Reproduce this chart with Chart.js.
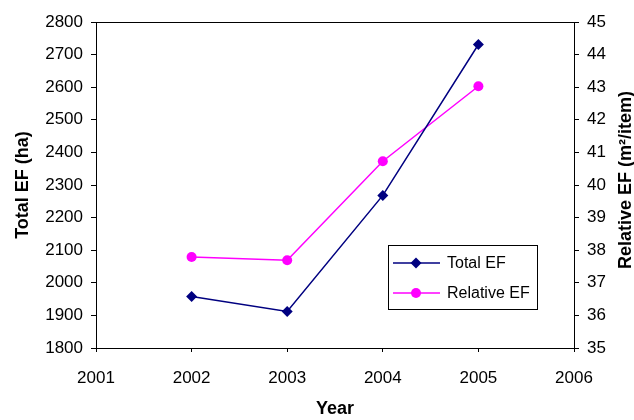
<!DOCTYPE html>
<html>
<head>
<meta charset="utf-8">
<script src="https://cdn.jsdelivr.net/npm/chart.js@4/dist/chart.umd.min.js"></script>
<style>
  html, body { margin: 0; padding: 0; background: #fff; }
  #wrap { width: 634px; height: 420px; }
</style>
</head>
<body>
<div id="wrap"><canvas id="efChart" width="634" height="420"></canvas></div>
<script>
// values
const years = [2002, 2003, 2004, 2005];
const totalEF = [1958, 1912, 2268, 2731];
const relativeEF = [37.79, 37.69, 40.73, 43.03];
const seriesNames = ["Total EF", "Relative EF"];
const rightTitle = "Relative EF (m²/item)";

const font = "'Liberation Sans', Arial, sans-serif";

// box around the plot area
const frame = {
  id: "frame",
  beforeDatasetsDraw(chart) {
    const { ctx, chartArea: a } = chart;
    ctx.save();
    ctx.strokeStyle = "#000";
    ctx.lineWidth = 1;
    ctx.strokeRect(a.left + 0.5, a.top + 0.5, a.right - a.left, a.bottom - a.top);
    ctx.restore();
  },
};

// right axis title reads bottom-to-top, like the left one
const sideTitle = {
  id: "sideTitle",
  afterDraw(chart) {
    const { ctx } = chart;
    ctx.save();
    ctx.translate(626, 180);
    ctx.rotate(-Math.PI / 2);
    ctx.fillStyle = "#000";
    ctx.font = "bold 18px " + font;
    ctx.textAlign = "center";
    ctx.textBaseline = "middle";
    ctx.fillText(rightTitle, 0, 0);
    ctx.restore();
  },
};

// legend sits inside the plot, lower right
const boxLegend = {
  id: "boxLegend",
  afterDraw(chart) {
    const { ctx } = chart;
    const x = 388, y = 245, w = 149, h = 64;
    ctx.save();
    ctx.fillStyle = "#fff";
    ctx.fillRect(x, y, w, h);
    ctx.strokeStyle = "#000";
    ctx.lineWidth = 1;
    ctx.strokeRect(x + 0.5, y + 0.5, w, h);
    chart.data.datasets.forEach((ds, i) => {
      const cy = y + 18 + i * 30;
      ctx.strokeStyle = ds.borderColor;
      ctx.lineWidth = 1.5;
      ctx.beginPath();
      ctx.moveTo(x + 5, cy);
      ctx.lineTo(x + 52, cy);
      ctx.stroke();
      ctx.fillStyle = ds.backgroundColor;
      Chart.helpers.drawPoint(ctx, {
        pointStyle: ds.pointStyle,
        radius: ds.pointRadius,
        borderWidth: 0,
      }, x + 28, cy);
      ctx.fillStyle = "#000";
      ctx.font = "16px " + font;
      ctx.textBaseline = "middle";
      ctx.fillText(ds.label, x + 59, cy + 1);
    });
    ctx.restore();
  },
};

const tickFont = { family: font, size: 17 };
const titleFont = { family: font, size: 18, weight: "bold" };

new Chart(document.getElementById("efChart"), {
  type: "line",
  data: {
    datasets: [
      {
        label: seriesNames[0],
        data: years.map((yr, i) => ({ x: yr, y: totalEF[i] })),
        borderColor: "#000080",
        backgroundColor: "#000080",
        borderWidth: 1.5,
        pointStyle: "rectRot",
        pointRadius: 5.5,
        pointBorderWidth: 0,
        yAxisID: "y",
      },
      {
        label: seriesNames[1],
        data: years.map((yr, i) => ({ x: yr, y: relativeEF[i] })),
        borderColor: "#FF00FF",
        backgroundColor: "#FF00FF",
        borderWidth: 1.5,
        pointStyle: "circle",
        pointRadius: 5,
        pointBorderWidth: 0,
        yAxisID: "y1",
      },
    ],
  },
  options: {
    responsive: false,
    animation: false,
    layout: { padding: { top: 22, left: 0, right: 0, bottom: 0 } },
    plugins: { legend: { display: false }, tooltip: { enabled: false } },
    scales: {
      x: {
        type: "linear",
        min: 2001,
        max: 2006,
        ticks: { stepSize: 1, callback: (v) => String(v), color: "#000", font: tickFont, padding: 16 },
        grid: { drawOnChartArea: false, color: "#000", tickLength: 4 },
        border: { color: "#000" },
        title: { display: true, text: "Year", color: "#000", font: titleFont, padding: { top: 4, bottom: 0 } },
        afterFit(s) { s.height = 72; },
      },
      y: {
        position: "left",
        min: 1800,
        max: 2800,
        ticks: { stepSize: 100, callback: (v) => String(v), color: "#000", font: tickFont, padding: 8 },
        grid: { drawOnChartArea: false, color: "#000", tickLength: 5 },
        border: { color: "#000" },
        title: { display: true, text: "Total EF (ha)", color: "#000", font: titleFont, padding: { top: 12 } },
        afterFit(s) { s.width = 96; },
      },
      y1: {
        position: "right",
        min: 35,
        max: 45,
        ticks: { stepSize: 1, color: "#000", font: tickFont, padding: 8 },
        grid: { drawOnChartArea: false, color: "#000", tickLength: 5 },
        border: { color: "#000" },
        afterFit(s) { s.width = 60; },
      },
    },
  },
  plugins: [frame, sideTitle, boxLegend],
});
</script>
</body>
</html>
